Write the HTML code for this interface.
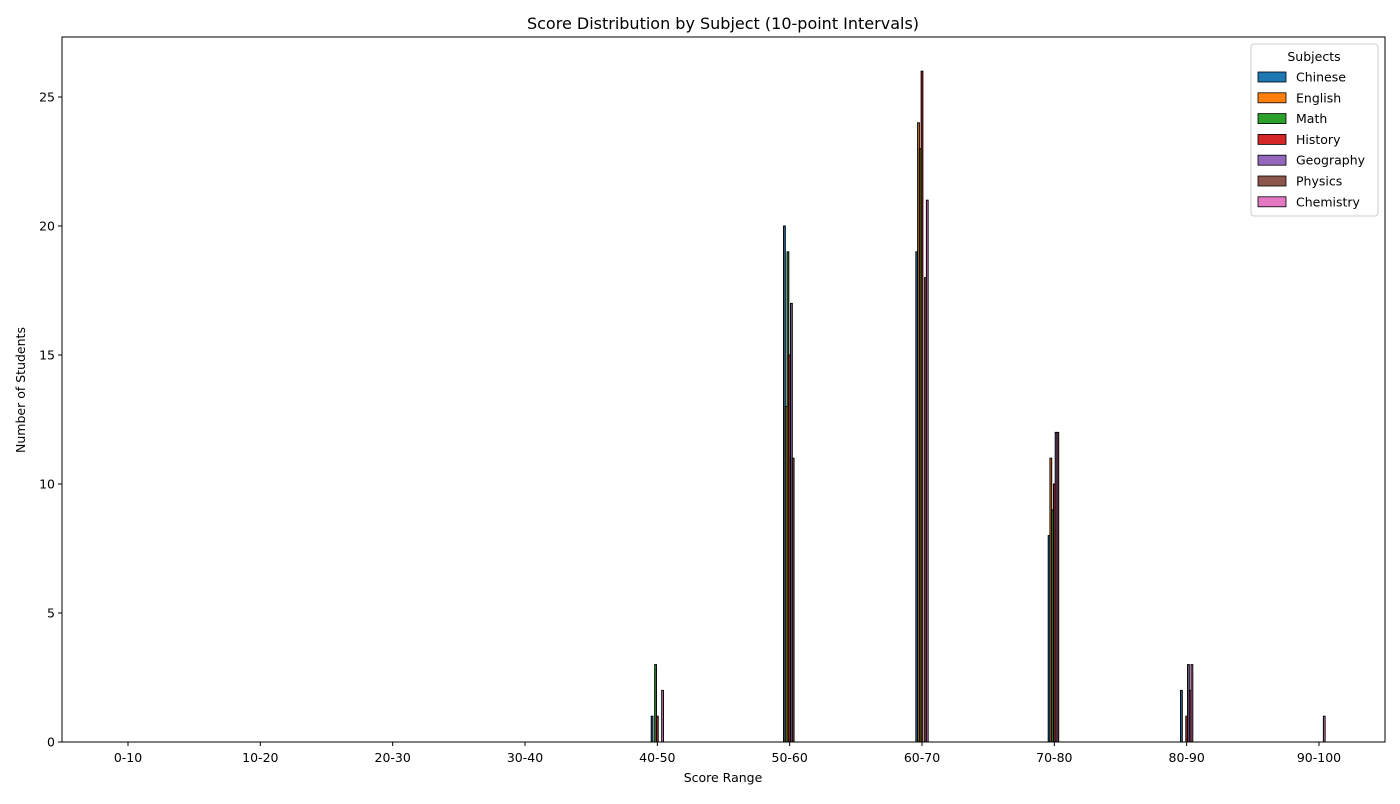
<!DOCTYPE html>
<html><head><meta charset="utf-8"><style>
body{margin:0;background:#fff;font-family:"DejaVu Sans","Liberation Sans",sans-serif}
</style></head><body>
<svg id="chart" width="1400" height="800" xmlns="http://www.w3.org/2000/svg" font-family="DejaVu Sans, Liberation Sans, sans-serif">
<rect width="1400" height="800" fill="#fff"/>
<text x="723" y="29" font-size="16" text-anchor="middle">Score Distribution by Subject (10-point Intervals)</text>
<g id="bars"></g>
<g id="axes"></g>
<rect x="62" y="37" width="1323" height="705" fill="none" stroke="#000" stroke-width="1"/>
<text x="723" y="782" font-size="12.5" text-anchor="middle">Score Range</text>
<text transform="translate(25,390) rotate(-90)" font-size="12.5" text-anchor="middle">Number of Students</text>
<g id="legend"></g>
</svg>
<script>
const categories=["0-10","10-20","20-30","30-40","40-50","50-60","60-70","70-80","80-90","90-100"];
const subjects=["Chinese","English","Math","History","Geography","Physics","Chemistry"];
const colors=["#1f77b4","#ff7f0e","#2ca02c","#d62728","#9467bd","#8c564b","#e377c2"];
const chinese=[0,0,0,0,1,20,19,8,2,0];
const english=[0,0,0,0,0,13,24,11,0,0];
const math=[0,0,0,0,3,19,23,9,0,0];
const history=[0,0,0,0,1,15,26,10,1,0];
const geography=[0,0,0,0,0,17,0,12,3,0];
const physics=[0,0,0,0,0,11,18,12,2,0];
const chemistry=[0,0,0,0,2,0,21,0,3,1];
const yTicks=[0,5,10,15,20,25];
const series=[chinese,english,math,history,geography,physics,chemistry];
const NS="http://www.w3.org/2000/svg";
const x0=128,xStep=(1319-128)/9,y0=742,yPer=(742-97)/25,bw=1.75;
const xs=i=>x0+i*xStep, ys=v=>y0-v*yPer;
const bars=document.getElementById('bars'),axes=document.getElementById('axes'),legend=document.getElementById('legend');
function mk(t,a,p){const e=document.createElementNS(NS,t);for(const k in a)e.setAttribute(k,a[k]);p.appendChild(e);return e;}
series.forEach((s,si)=>{s.forEach((v,ci)=>{
 const cx=xs(ci)+(si-3)*bw;
 const r=mk('rect',{x:cx-bw/2,y:ys(v),width:bw,height:Math.max(0,y0-ys(v)),fill:colors[si],stroke:'#000','stroke-width':1},bars);
 
 
});});
categories.forEach((c,i)=>{
 const l=mk('line',{x1:xs(i),x2:xs(i),y1:742,y2:746,stroke:'#000'},axes);
 
 
 const t=mk('text',{x:xs(i),y:762,'font-size':12.5,'text-anchor':'middle'},axes);t.textContent=c;
 
 
});
yTicks.forEach(v=>{
 const l=mk('line',{x1:58,x2:62,y1:ys(v),y2:ys(v),stroke:'#000'},axes);
 
 
 const t=mk('text',{x:55,y:ys(v)+4.5,'font-size':12.5,'text-anchor':'end'},axes);t.textContent=v;
 
 
});
const lb=mk('rect',{x:1251,y:44,width:127,height:172,rx:3,fill:'#fff',stroke:'#ccc'},legend);


const lt=mk('text',{x:1314,y:61,'font-size':12.5,'text-anchor':'middle'},legend);lt.textContent='Subjects';


subjects.forEach((s,i)=>{
 const y=77+i*20.8;
 const g=mk('g',{},legend);
 
 
 mk('rect',{x:1258,y:y-5,width:28,height:10,fill:colors[i],stroke:'#000','stroke-width':0.8},g);
 const t=mk('text',{x:1296,y:y+4.5,'font-size':12.5},g);t.textContent=s;
});
</script>
</body></html>
